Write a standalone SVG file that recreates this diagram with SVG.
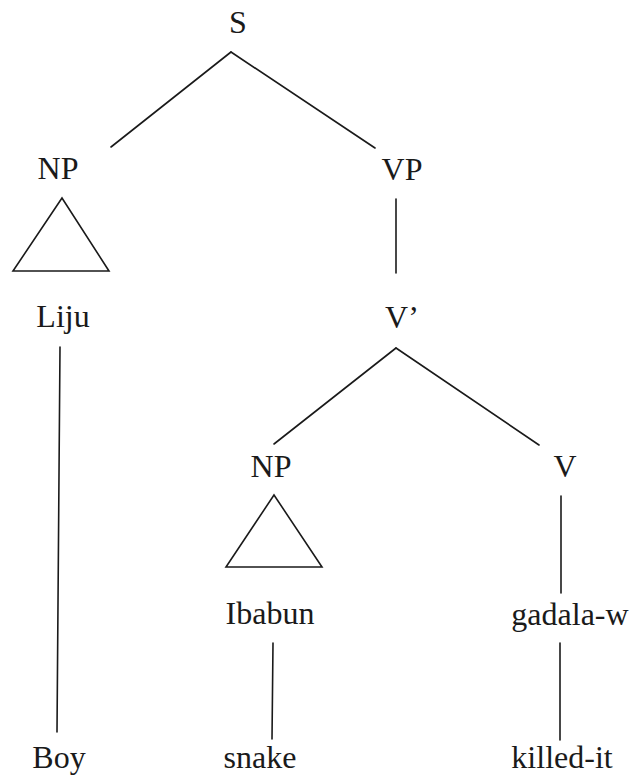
<svg xmlns="http://www.w3.org/2000/svg" width="633" height="777" viewBox="0 0 633 777">
  <style>
    .lbl { font-family: "Liberation Serif", "Times New Roman", serif; font-size: 32px; fill: #1a1a1a; text-anchor: middle; }
    .edge { stroke: #1a1a1a; stroke-width: 1.6; fill: none; stroke-linecap: round; }
  </style>
  <rect width="633" height="777" fill="#ffffff"/>

  <!-- tree branches -->
  <g id="connectors">
    <line class="edge" x1="231" y1="52" x2="111" y2="147"/>
    <line class="edge" x1="231" y1="52" x2="375" y2="148"/>
    <line class="edge" x1="396" y1="199" x2="396" y2="273"/>
    <line class="edge" x1="60" y1="347" x2="57" y2="732"/>
    <line class="edge" x1="396" y1="348" x2="274" y2="444"/>
    <line class="edge" x1="396" y1="348" x2="539" y2="445"/>
    <line class="edge" x1="561" y1="496" x2="561" y2="593"/>
    <line class="edge" x1="273" y1="643" x2="272" y2="739"/>
    <line class="edge" x1="560" y1="643" x2="560" y2="740"/>
  </g>

  <g id="node-S"><text class="lbl" x="238" y="33">S</text></g>
  <g id="node-NP1"><text class="lbl" x="58" y="179">NP</text></g>
  <g id="node-VP"><text class="lbl" x="402" y="180">VP</text></g>
  <g id="triangle-NP1"><polygon class="edge" stroke-linejoin="miter" points="62,198 13,271 109,271"/></g>
  <g id="node-Liju"><text class="lbl" x="63" y="327">Liju</text></g>
  <g id="node-Vbar"><text class="lbl" x="402" y="328">V’</text></g>
  <g id="node-NP2"><text class="lbl" x="271" y="477">NP</text></g>
  <g id="node-V"><text class="lbl" x="565" y="477">V</text></g>
  <g id="triangle-NP2"><polygon class="edge" stroke-linejoin="miter" points="274,495 226,567 322,567"/></g>
  <g id="node-Ibabun"><text class="lbl" x="270" y="624">Ibabun</text></g>
  <g id="node-gadala-w"><text class="lbl" x="570" y="625">gadala-w</text></g>
  <g id="node-Boy"><text class="lbl" x="59" y="768">Boy</text></g>
  <g id="node-snake"><text class="lbl" x="260" y="768">snake</text></g>
  <g id="node-killed-it"><text class="lbl" x="562" y="768">killed-it</text></g>
</svg>
